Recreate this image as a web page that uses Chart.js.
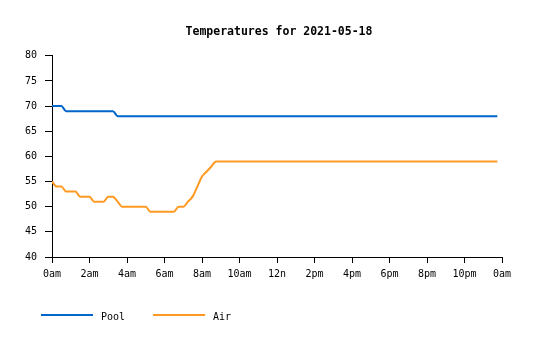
<!DOCTYPE html>
<html>
<head>
<meta charset="utf-8">
<script src="https://cdn.jsdelivr.net/npm/chart.js@4/dist/chart.umd.min.js"></script>
<style>
  html, body { margin: 0; padding: 0; background: #fff; }
  #chart { display: block; }
</style>
</head>
<body>
<canvas id="chart" width="535" height="340"></canvas>
<script>
// ---------- DATA (15 minute readings, 00:00 .. 23:45) ----------
const chartTitle = "Temperatures for 2021-05-18";

const xTickLabels = ["0am", "2am", "4am", "6am", "8am", "10am", "12n",
                     "2pm", "4pm", "6pm", "8pm", "10pm", "0am"];

const poolTemps = [
  70, 70, 70, 69, 69, 69, 69, 69, 69, 69, 69, 69, 69, 69, 68, 68,
  68, 68, 68, 68, 68, 68, 68, 68, 68, 68, 68, 68, 68, 68, 68, 68,
  68, 68, 68, 68, 68, 68, 68, 68, 68, 68, 68, 68, 68, 68, 68, 68,
  68, 68, 68, 68, 68, 68, 68, 68, 68, 68, 68, 68, 68, 68, 68, 68,
  68, 68, 68, 68, 68, 68, 68, 68, 68, 68, 68, 68, 68, 68, 68, 68,
  68, 68, 68, 68, 68, 68, 68, 68, 68, 68, 68, 68, 68, 68, 68, 68
];

const airTemps = [
  55, 54, 54, 53, 53, 53, 52, 52, 52, 51, 51, 51, 52, 52, 51, 50,
  50, 50, 50, 50, 50, 49, 49, 49, 49, 49, 49, 50, 50, 51, 52, 54,
  56, 57, 58, 59, 59, 59, 59, 59, 59, 59, 59, 59, 59, 59, 59, 59,
  59, 59, 59, 59, 59, 59, 59, 59, 59, 59, 59, 59, 59, 59, 59, 59,
  59, 59, 59, 59, 59, 59, 59, 59, 59, 59, 59, 59, 59, 59, 59, 59,
  59, 59, 59, 59, 59, 59, 59, 59, 59, 59, 59, 59, 59, 59, 59, 59
];

const POOL_COLOR = "#0066cc";
const AIR_COLOR  = "#ff9922";
const FONT = "'DejaVu Sans Mono', 'Liberation Mono', monospace";

// slot index -> x
const toPoints = arr => arr.map((v, i) => ({ x: i, y: v }));

// little line swatch for the legend (sits a touch above the label middle)
function legendLine(color) {
  const c = document.createElement("canvas");
  c.width = 55;
  c.height = 8;
  const g = c.getContext("2d");
  g.fillStyle = color;
  g.fillRect(0, 1, 52, 2);
  return c;
}

const poolSwatch = legendLine(POOL_COLOR);
const airSwatch  = legendLine(AIR_COLOR);

// title is centred over the plot area, not the whole canvas
const centreTitle = {
  id: "centreTitle",
  afterLayout(chart) {
    const t = chart.titleBlock;
    if (!t) return;
    t.left = chart.chartArea.left + 2;
    t.right = chart.chartArea.right + 2;
  }
};

new Chart(document.getElementById("chart").getContext("2d"), {
  type: "line",
  plugins: [centreTitle],
  data: {
    datasets: [
      {
        label: "Pool",
        data: toPoints(poolTemps),
        borderColor: POOL_COLOR,
        backgroundColor: POOL_COLOR,
        borderWidth: 2,
        pointRadius: 0,
        pointStyle: poolSwatch,
        cubicInterpolationMode: "monotone"
      },
      {
        label: "Air",
        data: toPoints(airTemps),
        borderColor: AIR_COLOR,
        backgroundColor: AIR_COLOR,
        borderWidth: 2,
        pointRadius: 0,
        pointStyle: airSwatch,
        cubicInterpolationMode: "monotone"
      }
    ]
  },
  options: {
    responsive: false,
    animation: false,
    layout: { padding: { left: 13, right: 33, top: 0, bottom: 8 } },
    plugins: {
      title: {
        display: true,
        text: chartTitle,
        color: "#000",
        font: { family: FONT, size: 11.5, weight: "bold" },
        padding: { top: 25, bottom: 17 }
      },
      legend: {
        display: true,
        position: "bottom",
        align: "start",
        labels: {
          usePointStyle: true,
          pointStyleWidth: 55,
          padding: 28,
          color: "#000",
          font: { family: FONT, size: 10 }
        }
      },
      tooltip: { enabled: false }
    },
    scales: {
      x: {
        type: "linear",
        min: 0,
        max: 96,
        afterFit: s => { s.height = 27; },
        afterBuildTicks: s => {
          s.ticks = xTickLabels.map((_, i) => ({ value: i * 8 }));
        },
        ticks: {
          autoSkip: false,
          maxRotation: 0,
          padding: 5,
          color: "#000",
          font: { family: FONT, size: 10 },
          callback: v => xTickLabels[v / 8]
        },
        grid: {
          drawOnChartArea: false,
          drawTicks: true,
          tickLength: 6,
          color: "#000"
        },
        border: { display: true, color: "#000", width: 1 }
      },
      y: {
        min: 40,
        max: 80,
        afterFit: s => { s.width = 39; },
        ticks: {
          stepSize: 5,
          padding: 8,
          color: "#000",
          font: { family: FONT, size: 10 }
        },
        grid: {
          drawOnChartArea: false,
          drawTicks: true,
          tickLength: 7,
          color: "#000"
        },
        border: { display: true, color: "#000", width: 1 }
      }
    }
  }
});
</script>
</body>
</html>
